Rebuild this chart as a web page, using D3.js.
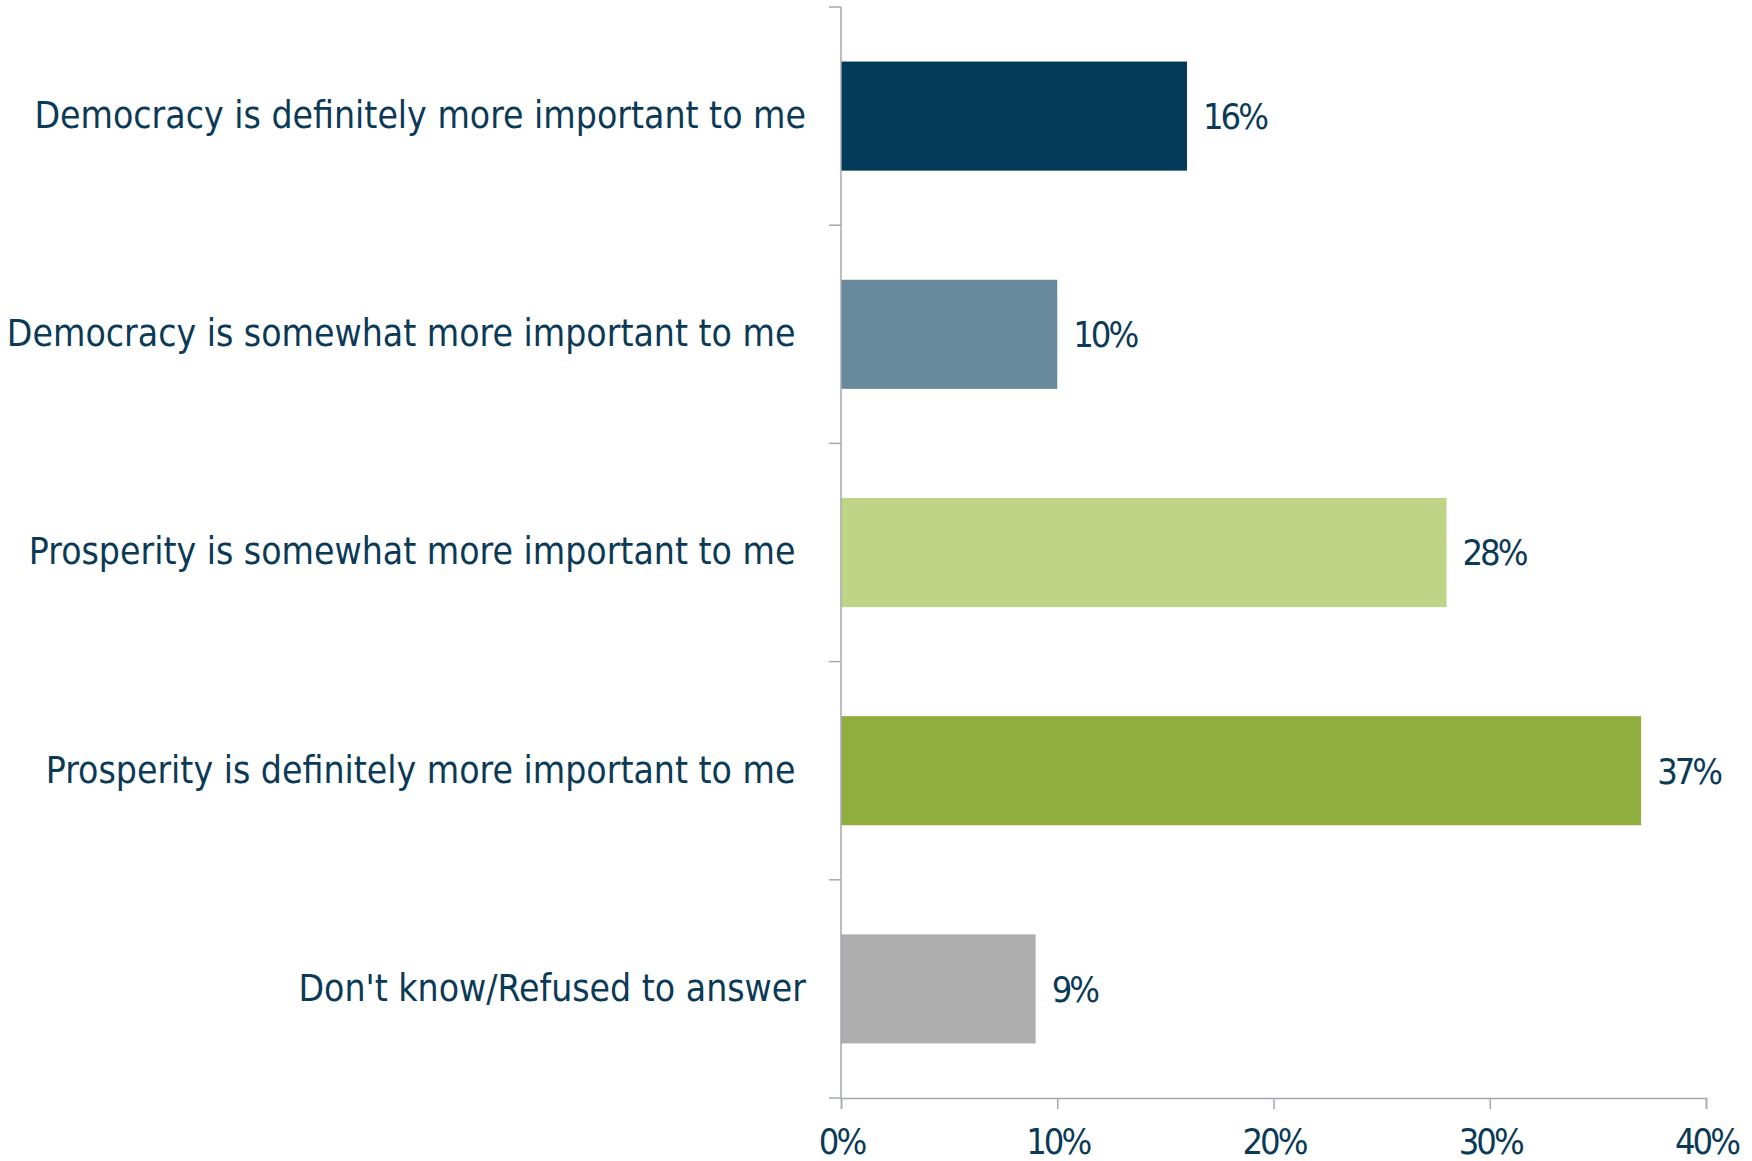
<!DOCTYPE html>
<html>
<head>
<meta charset="utf-8">
<script src="https://cdn.jsdelivr.net/npm/d3@7"></script>
<style>
  body { margin: 0; background: #fff; }
  svg text { font-family: 'DejaVu Sans Condensed', 'DejaVu Sans', sans-serif; fill: #0b3a57; }
</style>
</head>
<body>
<svg id="chart"></svg>
<script>
const categories = [
  'Democracy is definitely more important to me',
  'Democracy is somewhat more important to me\u00a0',
  'Prosperity is somewhat more important to me\u00a0',
  'Prosperity is definitely more important to me\u00a0',
  "Don't know/Refused to answer"
];
const values = [16, 10, 28, 37, 9];
const colors = ['#033a59', '#68899c', '#bfd487', '#8fae3f', '#aeaeae'];
const xTicks = [0, 10, 20, 30, 40];

function drawChart(container) {
  const width = 1752;
  const height = 1161;
  const margin = { top: 7, right: 46, bottom: 63, left: 841 };
  const w = width - margin.left - margin.right;
  const h = height - margin.top - margin.bottom;

  const svg = d3.select(container)
      .attr('width', width)
      .attr('height', height);

  const chart = svg.append('g')
      .attr('transform', `translate(${margin.left},${margin.top})`);

  const x = d3.scaleLinear()
      .domain([0, 40])
      .range([0, w]);

  const y = d3.scaleBand()
      .domain(categories)
      .range([0, h])
      .paddingInner(0.5)
      .paddingOuter(0.25);

  const axisColor = '#a3a8b1';

  // bars
  chart.selectAll('.bar')
      .data(values)
    .enter().append('rect')
      .attr('class', 'bar')
      .attr('x', 0)
      .attr('y', (d, i) => y(categories[i]))
      .attr('width', d => x(d))
      .attr('height', y.bandwidth())
      .attr('fill', (d, i) => colors[i]);

  // value labels
  chart.selectAll('.val')
      .data(values)
    .enter().append('text')
      .attr('class', 'val')
      .attr('x', d => x(d) + 16)
      .attr('y', (d, i) => y(categories[i]) + y.bandwidth() / 2)
      .attr('dy', '.36em')
      .style('font-size', '36px')
      .style('letter-spacing', '-3px')
      .text(d => d + '%');

  // bottom axis
  const xAxis = d3.axisBottom(x)
      .tickValues(xTicks)
      .tickSize(11)
      .tickSizeOuter(11)
      .tickPadding(19)
      .tickFormat(d => d + '%');

  const gx = chart.append('g')
      .attr('transform', `translate(0,${h})`)
      .call(xAxis);
  gx.select('.domain').attr('stroke', axisColor).attr('stroke-width', 1.5);
  gx.selectAll('.tick line').attr('stroke', axisColor).attr('stroke-width', 1.5);
  gx.selectAll('.tick text')
      .style('font-size', '36px')
      .style('letter-spacing', '-3px')
      .attr('fill', '#0b3a57');

  // left axis: category labels
  const yAxis = d3.axisLeft(y)
      .tickSize(0)
      .tickPadding(35);

  const gy = chart.append('g')
      .call(yAxis);
  gy.select('.domain').remove();
  gy.selectAll('.tick text')
      .style('font-size', '37px')
      .attr('fill', '#0b3a57');

  // left axis line and band boundary ticks
  const bounds = categories.map(c => y(c) - y.step() * y.paddingInner() / 2);
  bounds[0] = 0;
  bounds.push(h);

  chart.append('line')
      .attr('x1', 0).attr('x2', 0)
      .attr('y1', 0).attr('y2', h)
      .attr('stroke', axisColor)
      .attr('stroke-width', 1.5);

  chart.selectAll('.ytick')
      .data(bounds)
    .enter().append('line')
      .attr('class', 'ytick')
      .attr('x1', -12).attr('x2', 0)
      .attr('y1', d => d).attr('y2', d => d)
      .attr('stroke', axisColor)
      .attr('stroke-width', 1.5);
}

drawChart('#chart');
</script>
</body>
</html>
